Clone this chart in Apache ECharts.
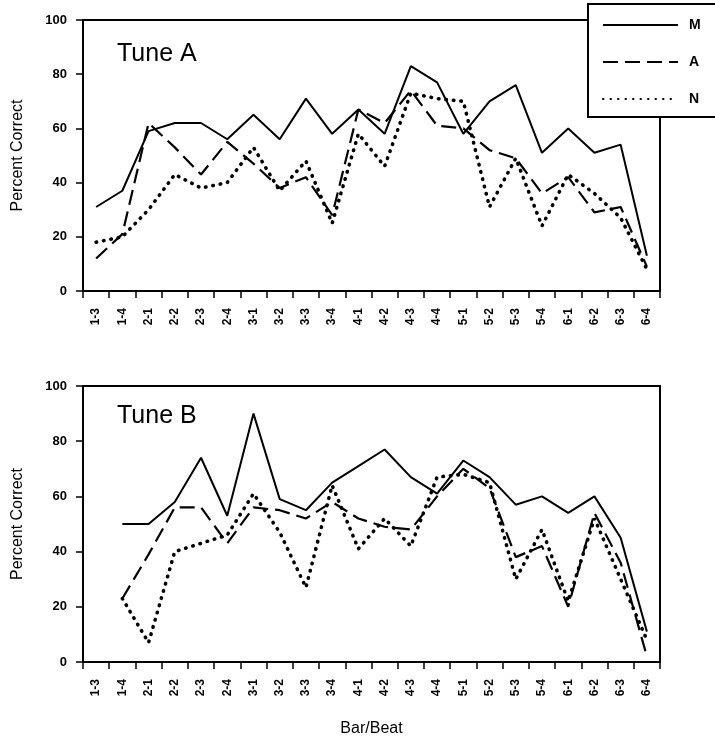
<!DOCTYPE html>
<html>
<head>
<meta charset="utf-8">
<script src="https://cdn.jsdelivr.net/npm/echarts@6/dist/echarts.min.js"></script>
<style>
    html, body { margin: 0; padding: 0; background: #fff; }
    #main { width: 715px; height: 741px; }
</style>
</head>
<body>
<div id="main"></div>
<script>
// bar/beat categories (shared by both panels)
const barBeat = ['1-3', '1-4', '2-1', '2-2', '2-3', '2-4', '3-1', '3-2', '3-3', '3-4', '4-1',
    '4-2', '4-3', '4-4', '5-1', '5-2', '5-3', '5-4', '6-1', '6-2', '6-3', '6-4'];

// Tune A, percent correct
const tuneA_M = [31, 37, 59, 62, 62, 56, 65, 56, 71, 58, 67, 58, 83, 77, 58, 70, 76, 51, 60, 51, 54, 13];
const tuneA_A = [12, 21, 62, 53, 43, 55, 47, 38, 42, 28, 67, 62, 74, 61, 60, 52, 49, 36, 42, 29, 31, 9];
const tuneA_N = [18, 20, 30, 43, 38, 40, 53, 37, 48, 25, 58, 46, 73, 71, 70, 31, 49, 24, 43, 36, 27, 8];

// Tune B, percent correct (no value at 1-3)
const tuneB_M = [null, 50, 50, 58, 74, 53, 90, 59, 55, 65, 71, 77, 67, 61, 73, 67, 57, 60, 54, 60, 45, 11];
const tuneB_A = [null, 23, 39, 56, 56, 43, 56, 55, 52, 58, 52, 49, 48, 60, 70, 63, 38, 42, 20, 54, 36, 2];
const tuneB_N = [null, 23, 7, 40, 43, 46, 61, 47, 27, 64, 41, 52, 42, 67, 68, 65, 30, 48, 22, 52, 30, 8];

const panelTitles = ['Tune A', 'Tune B'];
const legendNames = ['M', 'A', 'N'];

const FONT = 'Liberation Sans, Arial, sans-serif';

const styles = {
    M: { color: '#000', width: 2, type: 'solid' },
    A: { color: '#000', width: 2.2, type: [15, 7] },
    N: { color: '#000', width: 3.6, type: [0.5, 7], cap: 'round' }
};

function xAxisFor(gi, withName) {
    return {
        type: 'category',
        gridIndex: gi,
        data: barBeat,
        boundaryGap: true,
        name: withName ? 'Bar/Beat' : '',
        nameLocation: 'middle',
        nameGap: 59,
        nameTextStyle: { color: '#000', fontSize: 16, fontFamily: FONT },
        axisLine: { lineStyle: { color: '#000', width: 2 } },
        axisTick: { show: true, interval: 0, length: 7, lineStyle: { color: '#000', width: 1.5 } },
        axisLabel: {
            interval: 0, rotate: 90, margin: 17,
            color: '#000', fontSize: 12, fontWeight: 'bold', fontFamily: FONT
        },
        splitLine: { show: false }
    };
}

function yAxisFor(gi) {
    return {
        type: 'value',
        gridIndex: gi,
        min: 0,
        max: 100,
        interval: 20,
        name: 'Percent Correct',
        nameLocation: 'middle',
        nameGap: 57,
        nameTextStyle: { color: '#000', fontSize: 16, fontFamily: FONT },
        axisLine: { show: true, lineStyle: { color: '#000', width: 2 } },
        axisTick: { show: true, length: 7, lineStyle: { color: '#000', width: 1.5 } },
        axisLabel: { margin: 16, color: '#000', fontSize: 13, fontWeight: 'bold', fontFamily: FONT },
        splitLine: { show: false }
    };
}

function lineSeries(name, data, gi) {
    return {
        name: name,
        type: 'line',
        xAxisIndex: gi,
        yAxisIndex: gi,
        data: data,
        symbol: 'none',
        color: '#000',
        connectNulls: false,
        lineStyle: styles[name]
    };
}

const chart = echarts.init(document.getElementById('main'));
chart.setOption({
    animation: false,
    backgroundColor: '#fff',
    title: [
        { text: panelTitles[0], left: 117, top: 42, padding: 0,
          textStyle: { fontSize: 25, fontWeight: 'normal', color: '#000', fontFamily: FONT } },
        { text: panelTitles[1], left: 117, top: 404, padding: 0,
          textStyle: { fontSize: 25, fontWeight: 'normal', color: '#000', fontFamily: FONT } }
    ],
    legend: {
        orient: 'vertical',
        left: 588,
        top: 4,
        data: legendNames,
        itemWidth: 75,
        itemHeight: 14,
        itemGap: 23,
        padding: [14, 22, 11, 14],
        borderColor: '#000',
        borderWidth: 2,
        backgroundColor: '#fff',
        itemStyle: { opacity: 0 },
        textStyle: { fontSize: 14, fontWeight: 'bold', color: '#000', fontFamily: FONT, padding: [0, 0, 0, 6] }
    },
    grid: [
        { left: 83, right: 55, top: 20, height: 271, show: true, borderColor: '#000', borderWidth: 2 },
        { left: 83, right: 55, top: 386, height: 276, show: true, borderColor: '#000', borderWidth: 2 }
    ],
    xAxis: [xAxisFor(0, false), xAxisFor(1, true)],
    yAxis: [yAxisFor(0), yAxisFor(1)],
    series: [
        lineSeries('M', tuneA_M, 0),
        lineSeries('A', tuneA_A, 0),
        lineSeries('N', tuneA_N, 0),
        lineSeries('M', tuneB_M, 1),
        lineSeries('A', tuneB_A, 1),
        lineSeries('N', tuneB_N, 1)
    ]
});
</script>
</body>
</html>
